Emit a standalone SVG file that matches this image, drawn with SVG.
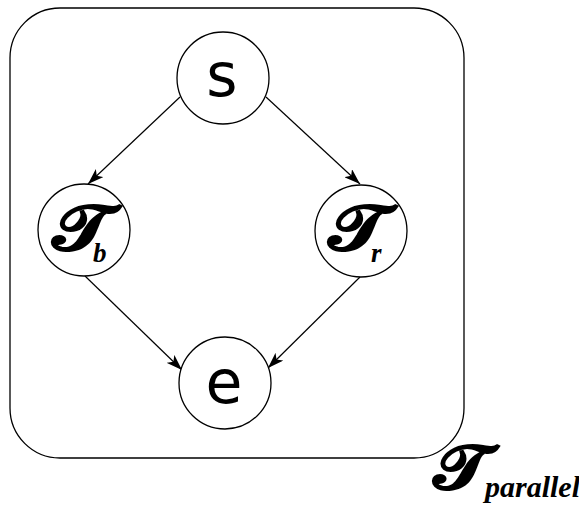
<svg xmlns="http://www.w3.org/2000/svg" width="579" height="506" viewBox="0 0 579 506">
<style>
.node{fill:#fff;stroke:#000;stroke-width:1.3}
.lbl{font-family:"DejaVu Sans",sans-serif;font-size:60px;text-anchor:middle}
.cal{font-family:"DejaVu Sans",serif;font-weight:bold;font-size:64px;text-anchor:middle}
.sub{font-family:"Liberation Serif",serif;font-weight:bold;font-style:italic;font-size:27px}
.edge{stroke:#000;stroke-width:1.2;fill:none;marker-end:url(#arr)}
</style>
<defs>
<marker id="arr" viewBox="0 0 16 11" refX="16" refY="5.5" markerWidth="16" markerHeight="11" markerUnits="userSpaceOnUse" orient="auto">
<path d="M0,0 L16,5.5 L0,11 L4,5.5 z" fill="#000"/>
</marker>
</defs>
<rect id="frame" x="10" y="8" width="454" height="450" rx="50" ry="50" fill="none" stroke="#000" stroke-width="1.3"/>
<g id="connectors">
<line class="edge" x1="180" y1="97" x2="88" y2="184"/>
<line class="edge" x1="266" y1="97" x2="360" y2="184"/>
<line class="edge" x1="85" y1="276" x2="182" y2="370"/>
<line class="edge" x1="360" y1="277" x2="268" y2="368"/>
</g>
<g id="s"><circle class="node" cx="223" cy="78" r="46"/><text class="lbl" x="222" y="96">s</text></g>
<g id="Tb"><circle class="node" cx="84" cy="230" r="46"/><text class="cal" transform="translate(81,250) scale(1.2,1)">𝓣</text><text class="sub" x="93" y="262">b</text></g>
<g id="Tr"><circle class="node" cx="361" cy="231" r="46"/><text class="cal" transform="translate(357,250) scale(1.2,1)">𝓣</text><text class="sub" x="371" y="262">r</text></g>
<g id="e"><circle class="node" cx="225" cy="383" r="46"/><text class="lbl" x="224" y="403">e</text></g>
<g id="label"><text class="cal" transform="translate(461,489) scale(1.18,1)" style="font-size:62px">𝓣</text><text class="sub" x="485" y="497" style="font-size:30px">parallel</text></g>
</svg>
